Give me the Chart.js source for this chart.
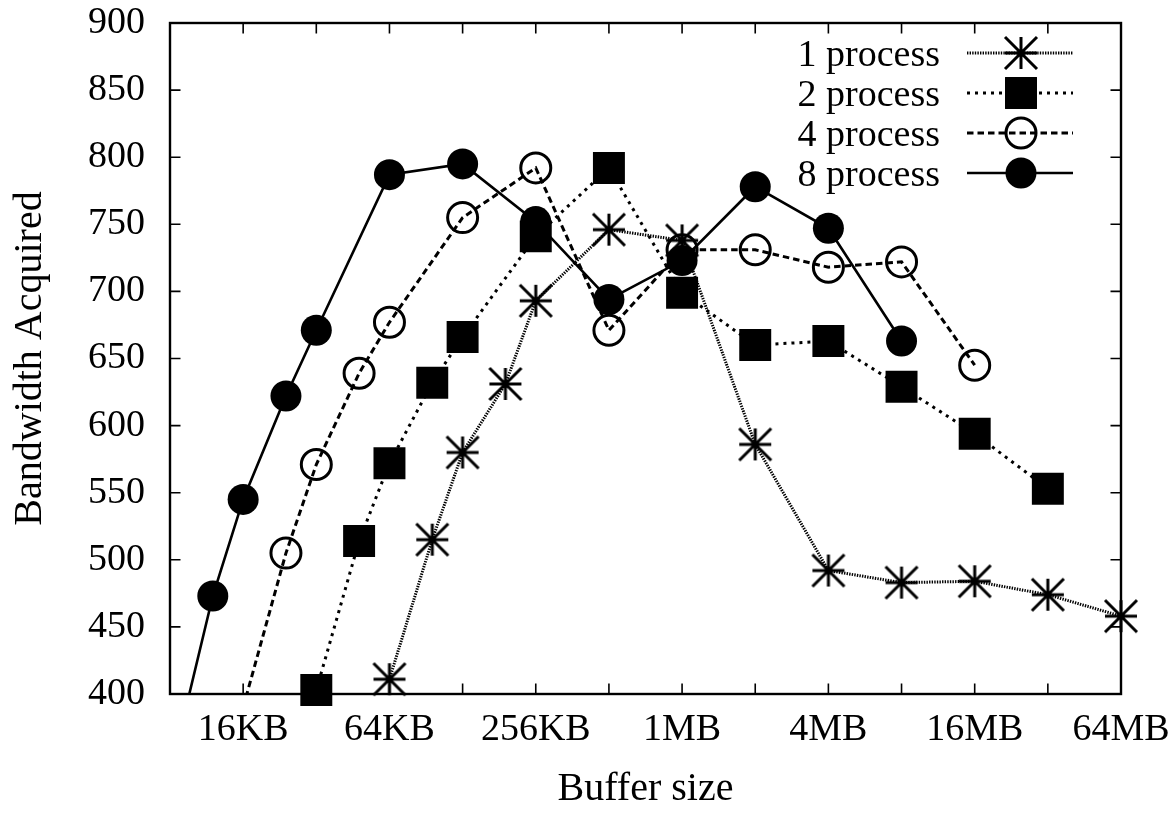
<!DOCTYPE html>
<html>
<head>
<meta charset="utf-8">
<script src="https://cdn.jsdelivr.net/npm/chart.js@4.4.0/dist/chart.umd.min.js"></script>
<style>
  html, body { margin: 0; padding: 0; background: #fff; }
  #wrap { width: 1175px; height: 813px; position: relative; }
</style>
</head>
<body>
<div id="wrap"><canvas id="chart"></canvas></div>
<script>
// ── Data: buffer sizes (KB) and bandwidth per process count ──
const sizes1 = [64, 96, 128, 192, 256, 512, 1024, 2048, 4096, 8192, 16384, 32768, 65536];
const bw1    = [411, 515, 580, 631, 693, 746, 738, 586, 492, 483, 484, 474, 458];

const sizes2 = [32, 48, 64, 96, 128, 256, 512, 1024, 2048, 4096, 8192, 16384, 32768];
const bw2    = [403, 514, 572, 632, 666, 741, 792, 699, 660, 663, 629, 594, 553];

const sizes4 = [16, 24, 32, 48, 64, 128, 256, 512, 1024, 2048, 4096, 8192, 16384];
const bw4    = [390, 505, 571, 639, 677, 755, 792, 671, 731, 731, 718, 722, 645];

const sizes8 = [8, 12, 16, 24, 32, 64, 128, 256, 512, 1024, 2048, 4096, 8192];
const bw8    = [340, 473, 545, 622, 671, 787, 795, 752, 694, 723, 778, 747, 663];

const labels = ["1 process", "2 process", "4 process", "8 process"];

// x ticks (labelled ones), sizes in KB
const tickSizes  = [16, 64, 256, 1024, 4096, 16384, 65536];
const tickLabels = ["16KB", "64KB", "256KB", "1MB", "4MB", "16MB", "64MB"];

const X_MIN = 3, X_MAX = 16;   // log2(KB): 8KB .. 64MB
const Y_MIN = 400, Y_MAX = 900;

const FONT = "'Liberation Serif', 'Times New Roman', serif";

// ── Asterisk glyph (gnuplot style: + and x) ─────────────────
function makeAsterisk(r, lw) {
    const c = document.createElement("canvas");
    const s = 2 * Math.ceil(r + lw);
    c.width = c.height = s;
    const g = c.getContext("2d");
    const m = s / 2;
    g.strokeStyle = "#000";
    g.lineWidth = lw;
    g.beginPath();
    g.moveTo(m - r, m);     g.lineTo(m + r, m);
    g.moveTo(m, m - r);     g.lineTo(m, m + r);
    g.moveTo(m - r, m - r); g.lineTo(m + r, m + r);
    g.moveTo(m - r, m + r); g.lineTo(m + r, m - r);
    g.stroke();
    return c;
}
const asterisk = makeAsterisk(16, 3);

// ── Series styles ──────────────────────────────────────────
const series = [
    { sizes: sizes1, values: bw1, dash: [1.4, 1.2], width: 3,   style: asterisk, radius: 16,   hollow: false },
    { sizes: sizes2, values: bw2, dash: [3, 5],     width: 3,   style: "rect",   radius: 22.6, hollow: false },
    { sizes: sizes4, values: bw4, dash: [6.5, 4],   width: 3,   style: "circle", radius: 15,   hollow: true  },
    { sizes: sizes8, values: bw8, dash: [],         width: 2.6, style: "circle", radius: 15.5, hollow: false },
];

const datasets = [];
series.forEach((s, k) => {
    const pts = s.sizes.map((kb, i) => ({ x: Math.log2(kb), y: s.values[i] }));
    // line (clipped to the plot box)
    datasets.push({
        label: labels[k],
        data: pts,
        order: 100 - 2 * k,
        borderColor: "#000",
        borderWidth: s.width,
        borderDash: s.dash,
        pointRadius: 0,
        fill: false,
        tension: 0,
    });
    // markers (not clipped, hidden when out of range)
    datasets.push({
        label: labels[k] + " pts",
        data: pts,
        order: 99 - 2 * k,
        showLine: false,
        clip: false,
        pointStyle: s.style,
        pointRadius: (ctx) => (ctx.raw && ctx.raw.y < Y_MIN ? 0 : s.radius),
        pointBackgroundColor: s.hollow ? "rgba(0,0,0,0)" : "#000",
        pointBorderColor: "#000",
        pointBorderWidth: s.hollow ? 3 : 0,
    });
});

// ── Frame with inward ticks on all four sides ───────────────
const TICK = 10.5;
const framePlugin = {
    id: "frame",
    beforeDatasetsDraw(chart) {
        const { ctx, chartArea: a, scales: { x, y } } = chart;
        ctx.save();
        ctx.strokeStyle = "#000";
        ctx.lineWidth = 1.6;
        ctx.beginPath();
        x.ticks.forEach((t) => {
            const px = x.getPixelForValue(t.value);
            ctx.moveTo(px, a.bottom); ctx.lineTo(px, a.bottom - TICK);
            ctx.moveTo(px, a.top);    ctx.lineTo(px, a.top + TICK);
        });
        y.ticks.forEach((t) => {
            const py = y.getPixelForValue(t.value);
            ctx.moveTo(a.left, py);  ctx.lineTo(a.left + TICK, py);
            ctx.moveTo(a.right, py); ctx.lineTo(a.right - TICK, py);
        });
        ctx.stroke();
        ctx.lineWidth = 2.4;
        ctx.strokeRect(a.left, a.top, a.right - a.left, a.bottom - a.top);
        ctx.restore();
    },
};

// ── gnuplot-like key (text, then line sample with marker) ──
const keyPlugin = {
    id: "gnuKey",
    afterDatasetsDraw(chart) {
        const { ctx, chartArea: a } = chart;
        ctx.save();
        ctx.font = `38px ${FONT}`;
        ctx.textAlign = "right";
        ctx.textBaseline = "alphabetic";
        series.forEach((s, k) => {
            const yRow = a.top + 30 + k * 40;
            ctx.fillStyle = "#000";
            ctx.fillText(labels[k], a.right - 181, yRow + 13);

            ctx.beginPath();
            ctx.setLineDash(s.dash);
            ctx.lineWidth = s.width;
            ctx.strokeStyle = "#000";
            ctx.moveTo(a.right - 154, yRow);
            ctx.lineTo(a.right - 48, yRow);
            ctx.stroke();
            ctx.setLineDash([]);

            ctx.fillStyle = s.hollow ? "rgba(0,0,0,0)" : "#000";
            ctx.lineWidth = s.hollow ? 3 : 0;
            Chart.helpers.drawPoint(ctx, {
                pointStyle: s.style,
                radius: s.radius,
                rotation: 0,
                borderWidth: s.hollow ? 3 : 0,
            }, a.right - 100, yRow);
        });
        ctx.restore();
    },
};

// ── Chart ──────────────────────────────────────────────────
const tickFont = { family: FONT, size: 38 };
const titleFont = { family: FONT, size: 40 };

new Chart(document.getElementById("chart"), {
    type: "line",
    data: { datasets },
    options: {
        responsive: true,
        maintainAspectRatio: false,
        animation: false,
        events: [],
        layout: { padding: { top: 23, right: 54, left: 0, bottom: 0 } },
        plugins: {
            legend: { display: false },
            tooltip: { enabled: false },
        },
        scales: {
            x: {
                type: "linear",
                min: X_MIN,
                max: X_MAX,
                grid: { display: false, drawTicks: false },
                border: { display: false },
                afterFit: (s) => {
                    s.height = 119;
                    s.paddingLeft = 0;
                    s.paddingRight = 0;
                },
                ticks: {
                    stepSize: 1,
                    autoSkip: false,
                    maxRotation: 0,
                    minRotation: 0,
                    padding: 13,
                    color: "#000",
                    font: tickFont,
                    callback: (v) => {
                        const i = tickSizes.findIndex((kb) => Math.log2(kb) === v);
                        return i >= 0 ? tickLabels[i] : "";
                    },
                },
                title: {
                    display: true,
                    text: "Buffer size",
                    color: "#000",
                    font: titleFont,
                    padding: { top: 0, bottom: 0 },
                },
            },
            y: {
                min: Y_MIN,
                max: Y_MAX,
                grid: { display: false, drawTicks: false },
                border: { display: false },
                afterFit: (s) => {
                    s.width = 170;
                    s.paddingTop = 0;
                    s.paddingBottom = 0;
                },
                ticks: {
                    stepSize: 50,
                    padding: 25,
                    color: "#000",
                    font: tickFont,
                },
                title: {
                    display: true,
                    text: "Bandwidth Acquired",
                    color: "#000",
                    font: titleFont,
                    padding: { top: 6, bottom: 0 },
                },
            },
        },
    },
    plugins: [framePlugin, keyPlugin],
});
</script>
</body>
</html>
